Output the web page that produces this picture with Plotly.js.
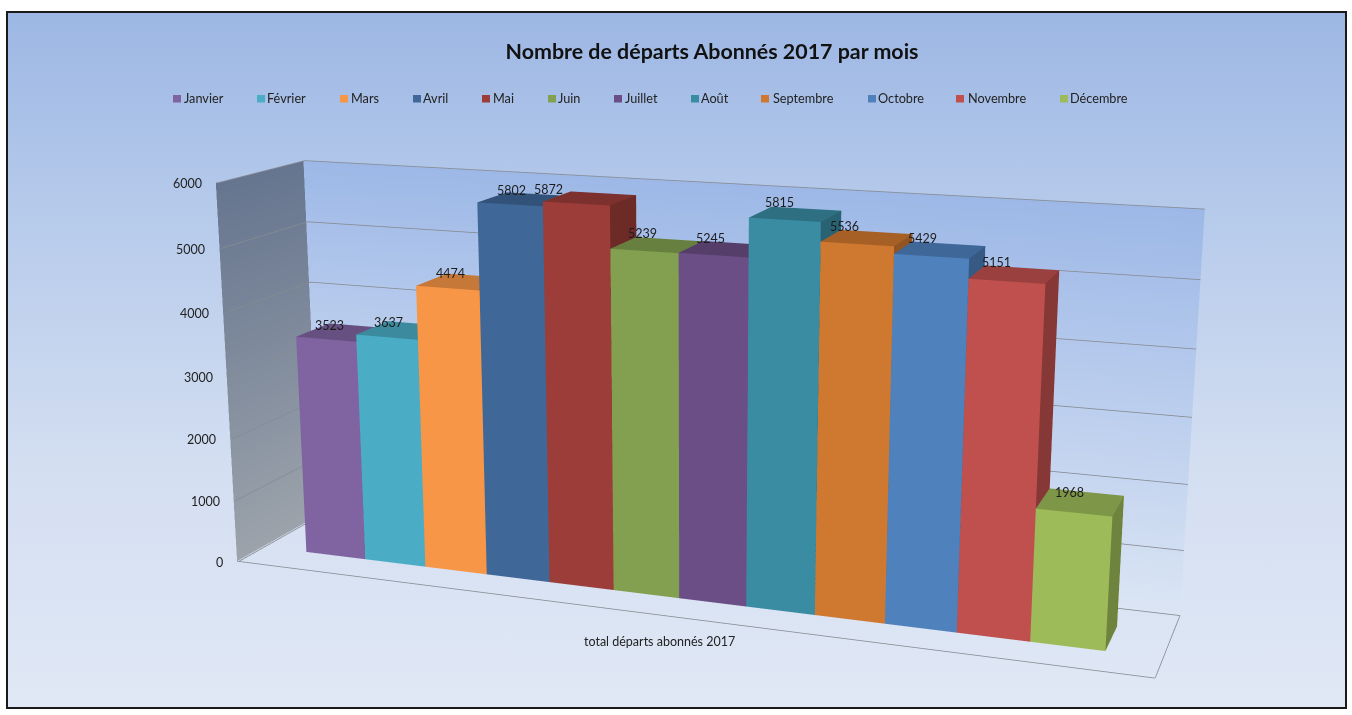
<!DOCTYPE html>
<html><head><meta charset="utf-8">
<script src="https://cdn.plot.ly/plotly-3.0.1.min.js"></script>
<style>
html,body{margin:0;padding:0;background:#fff;width:1352px;height:715px;overflow:hidden}
#frame{position:absolute;left:6px;top:11px;width:1337px;height:694px;border:2px solid #1a1a1a;
 background:linear-gradient(180deg,#9db7e4 0%,#b7cbeb 30%,#d3deF1 65%,#e0e8f5 100%);overflow:hidden}
#chart{position:absolute;left:-12px;top:-474px}
</style></head><body>
<div id="frame"></div><div id="chart"></div>
<script>
const months=['Janvier','Février','Mars','Avril','Mai','Juin','Juillet','Août','Septembre','Octobre','Novembre','Décembre'];
const departs=[3523,3637,4474,5802,5872,5239,5245,5815,5536,5429,5151,1968];
const barColors=['#8064A2','#4BACC6','#F79646','#3F6797','#9C3D39','#82A04F','#6A4E85','#3A8CA3','#CF7830','#4F81BD','#C0504D','#9DBB59'];
const zTicks=[0,1000,2000,3000,4000,5000,6000];
const W=1406,H=1740,LEFT=-12,TOP=-474;
const X=13.5,GAP=0.75,Y0=0.3,Y1=0.7,ZMAX=6000;
const az=20*Math.PI/180,el=14.3*Math.PI/180,D=2.167;
const px=s=>(s-LEFT)/W, py=s=>1-(s-TOP)/H;
function shade(hex,k){const n=parseInt(hex.slice(1),16);
 const c=[n>>16,(n>>8)&255,n&255].map(v=>Math.round(v*k));return `rgb(${c[0]},${c[1]},${c[2]})`;}
const flat={ambient:1,diffuse:0,specular:0,fresnel:0,roughness:1};
const traces=[];
// walls
traces.push({type:'mesh3d',x:[0,0,0,0],y:[0,1,1,0],z:[0,0,ZMAX,ZMAX],i:[0,0],j:[1,2],k:[2,3],
 vertexcolor:['#9CA3AB','#9CA3AB','#66758F','#66758F'],lighting:flat,hoverinfo:'skip',showscale:false});
traces.push({type:'mesh3d',x:[0,X,X,0],y:[1,1,1,1],z:[0,0,ZMAX,ZMAX],i:[0,0],j:[1,2],k:[2,3],
 vertexcolor:['#dbe5f4','#dbe5f4','#9db8e7','#9db8e7'],lighting:flat,hoverinfo:'skip',showscale:false});
// grid and floor outline
const gx=[],gy=[],gz=[];
zTicks.forEach(t=>{gx.push(0.03,0.03,X,null);gy.push(0,0.997,0.997,null);gz.push(t,t,t,null);});
gx.push(0,X,X);gy.push(0,0,1);gz.push(0,0,0);
traces.push({type:'scatter3d',mode:'lines',x:gx,y:gy,z:gz,line:{color:'#868b92',width:1.6},hoverinfo:'skip',showlegend:false});
// bars
departs.forEach((v,m)=>{
 const a=GAP+m,b=a+1,c=barColors[m],top=shade(c,.8),side=shade(c,.7);
 traces.push({type:'mesh3d',name:months[m],
  x:[a,b,b,a,a,b,b,a],y:[Y0,Y0,Y1,Y1,Y0,Y0,Y1,Y1],z:[0,0,0,0,v,v,v,v],
  i:[0,0,1,1,4,4,3,3,0,0,0,0],j:[1,5,2,6,5,6,2,6,3,7,1,2],k:[5,4,6,5,6,7,6,7,7,4,2,3],
  facecolor:[c,c,side,side,top,top,c,c,c,c,c,c],flatshading:true,lighting:flat,hoverinfo:'skip',showlegend:false});
});
// legend keys, placed in page pixels
const legendKeyLeft=[173,257,340,413,482,548,614,691,761,868,956,1060];
const legendTextLeft=[184,267,351,423,493,558,625,701,773,878,968,1070];
const legendShapes=months.map((n,m)=>({type:'rect',xref:'paper',yref:'paper',line:{width:0},fillcolor:barColors[m],
 x0:px(legendKeyLeft[m]),x1:px(legendKeyLeft[m]+8),y0:py(102.5),y1:py(95)}));
const legendText=months.map((n,m)=>({xref:'paper',yref:'paper',x:px(legendTextLeft[m]),y:py(98),xanchor:'left',yanchor:'middle',xshift:-2,
 text:n,showarrow:false,font:{family:'Lato',size:12.7,color:'#222'}}));
const tickAnn=zTicks.map(t=>({x:0,y:0,z:t,text:String(t),showarrow:false,xanchor:'right',xshift:-12,yshift:-1,
 font:{family:'Lato',size:12.5,color:'#222'}}));
const labelShift=[3,2,3,2,-28,-2,-3,-5,-13,-9,-10,-4];
const labelRise=[14,15,15,14,14,17,17,17,17,18,19,20];
const labelAnn=departs.map((v,m)=>({x:GAP+m+.5,y:Y0,z:v,text:String(v),showarrow:false,yshift:labelRise[m],xshift:labelShift[m],
 font:{family:'Lato',size:12.5,color:'#1c1c1c'}}));
const axis=r=>({range:r,visible:false,showgrid:false,showbackground:false,zeroline:false,showspikes:false,showticklabels:false});
const layout={width:W,height:H,margin:{l:0,r:0,t:0,b:0,pad:0},autosize:false,
 paper_bgcolor:'rgba(0,0,0,0)',plot_bgcolor:'rgba(0,0,0,0)',
 title:{text:'<b>Nombre de départs Abonnés 2017 par mois</b>',x:px(712),xanchor:'center',y:py(52),yanchor:'middle',
  font:{family:'Lato',size:21.4,color:'#111'}},
 showlegend:false,
 shapes:legendShapes,
 annotations:legendText.concat([{xref:'paper',yref:'paper',x:px(659),y:py(641),text:'total départs abonnés 2017',showarrow:false,
  font:{family:'Lato',size:12.5,color:'#222'}}]),
 scene:{domain:{x:[0,1],y:[0,1]},bgcolor:'rgba(0,0,0,0)',aspectmode:'manual',aspectratio:{x:.993,y:.18,z:.417},
  xaxis:axis([0,X]),yaxis:axis([0,1]),zaxis:axis([0,ZMAX]),
  camera:{projection:{type:'perspective'},center:{x:0,y:0,z:0},up:{x:0,y:0,z:1},
   eye:{x:D*Math.sin(az)*Math.cos(el),y:-D*Math.cos(az)*Math.cos(el),z:D*Math.sin(el)}},
  annotations:tickAnn.concat(labelAnn)}};
Plotly.newPlot('chart',traces,layout,{displayModeBar:false,responsive:false});
</script></body></html>
